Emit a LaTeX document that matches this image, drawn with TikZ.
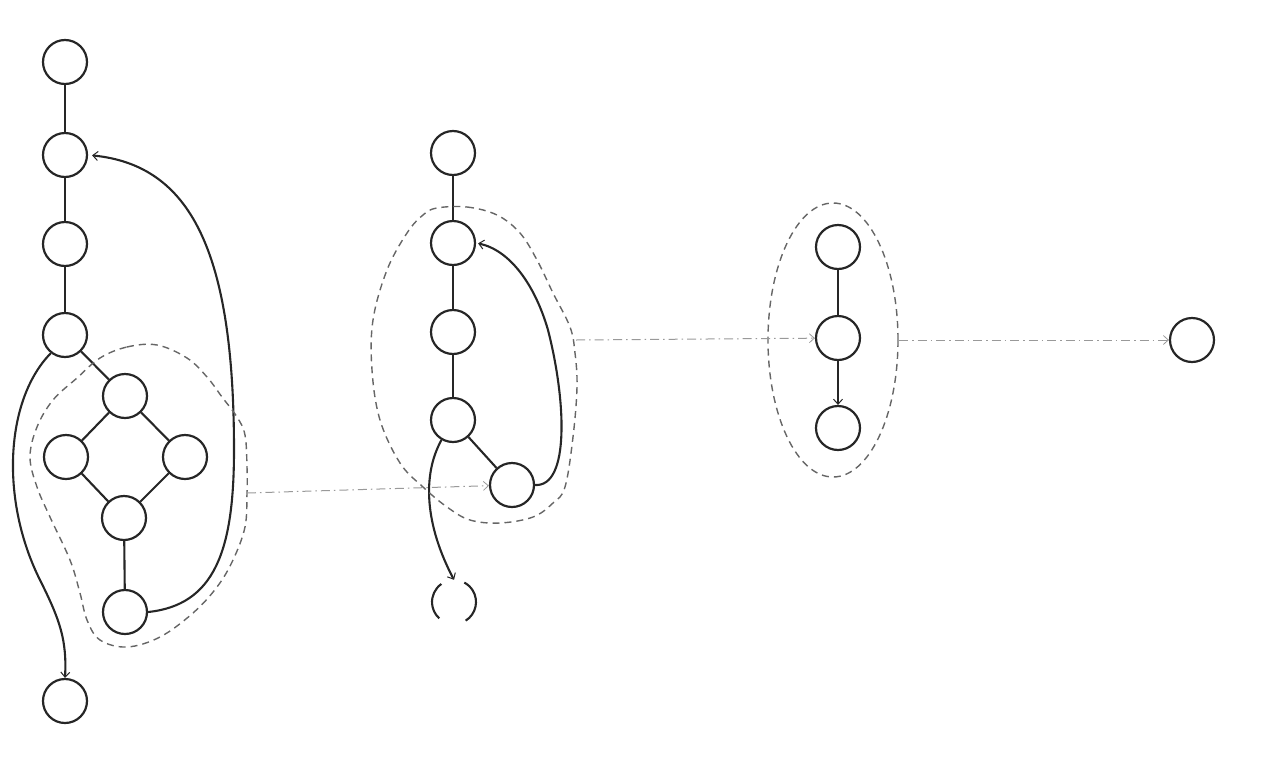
\documentclass[tikz,border=0pt]{standalone}
\usetikzlibrary{arrows.meta}
\begin{document}
\begin{tikzpicture}[x=1pt,y=-1pt,
  vtx/.style={circle,draw=black!85,line width=2.2pt,minimum size=44pt,inner sep=0pt},
  edg/.style={draw=black!85,line width=2.1pt},
  arr/.style={edg,-{Straight Barb[length=5pt,width=9pt,line width=1pt]}},
  hull/.style={draw=black!60,line width=1.4pt,dash pattern=on 7pt off 5pt},
  link/.style={draw=black!40,line width=1pt,dash pattern=on 9pt off 4pt on 1.5pt off 4pt,
    -{Straight Barb[length=5pt,width=9pt,line width=0.8pt]}}]
\useasboundingbox (0,0) rectangle (1263,763);
% ---- left group
\node[vtx] (L1) at (65,62) {};
\node[vtx] (L2) at (65,155) {};
\node[vtx] (L3) at (65,244) {};
\node[vtx] (L4) at (65,335) {};
\node[vtx] (Dt) at (125,396) {};
\node[vtx] (Dl) at (66,457) {};
\node[vtx] (Dr) at (185,457) {};
\node[vtx] (Db) at (124,518) {};
\node[vtx] (Dd) at (125,612) {};
\node[vtx] (L5) at (65,701) {};
\draw[edg] (L1) -- (L2);
\draw[edg] (L2) -- (L3);
\draw[edg] (L3) -- (L4);
\draw[edg] (L4) -- (Dt);
\draw[edg] (Dt) -- (Dl);
\draw[edg] (Dt) -- (Dr);
\draw[edg] (Dl) -- (Db);
\draw[edg] (Dr) -- (Db);
\draw[edg] (Db) -- (Dd);
\draw[arr,shorten >=4pt] (Dd.east) .. controls (215,605) and (234,550) .. (234,450)
   .. controls (234,250) and (190,165) .. (L2.east);
\draw[arr] (L4.232) .. controls (5,400) and (0,500) .. (40,580)
   .. controls (60,620) and (67,640) .. (L5.north);
\draw[hull] plot[smooth cycle,tension=0.6] coordinates {
  (100,358) (127,347) (157,345) (187,358) (207,377) (222,397) (237,417) (245,435)
  (247,467) (247,493) (245,527) (233,560) (217,587) (193,613) (160,637) (127,647)
  (100,640) (87,620) (80,593) (70,560) (50,517) (37,487) (30,457) (37,427) (53,400) (77,378)};
\coordinate (h1) at (247,493);
% ---- middle group
\node[vtx] (M1) at (453,153) {};
\node[vtx] (M2) at (453,243) {};
\node[vtx] (M3) at (453,332) {};
\node[vtx] (M4) at (453,420) {};
\node[vtx] (Mr) at (512,485) {};
\node (Mb) at (454,602) [circle,minimum size=44pt,inner sep=0pt] {};
\draw[edg] (Mb.center) ++(125:22pt) arc[start angle=125,end angle=228,radius=22pt];
\draw[edg] (Mb.center) ++(-58:22pt) arc[start angle=-58,end angle=62,radius=22pt];
\draw[edg] (M1) -- (M2);
\draw[edg] (M2) -- (M3);
\draw[edg] (M3) -- (M4);
\draw[edg] (M4) -- (Mr);
\draw[arr,shorten >=2pt] (Mr.east) .. controls (570,487) and (566,400) .. (548,330)
   .. controls (535,285) and (510,250) .. (M2.east);
\draw[arr] (M4.240) .. controls (422,475) and (425,525) .. (Mb.north);
\draw[hull] plot[smooth cycle,tension=0.6] coordinates {
  (437,208) (467,207) (497,215) (520,233) (537,260) (553,293) (570,327) (575,353)
  (577,387) (573,437) (565,487) (553,503) (533,517) (500,523) (470,520) (447,507)
  (423,487) (400,463) (380,420) (372,370) (373,320) (387,270) (407,233) (423,215)};
\coordinate (h2) at (576,340);
% ---- right group
\node[vtx] (R1) at (838,247) {};
\node[vtx] (R2) at (838,338) {};
\node[vtx] (R3) at (838,428) {};
\draw[edg] (R1) -- (R2);
\draw[arr] (R2) -- (R3);
\draw[hull] (833,340) ellipse[x radius=65pt,y radius=137pt];
\coordinate (h3) at (899,340);
\node[vtx] (F) at (1192,340) {};
% ---- links
\draw[link] (h1) -- (Mr);
\draw[link] (h2) -- (R2);
\draw[link] (h3) -- (F);
\end{tikzpicture}
\end{document}
